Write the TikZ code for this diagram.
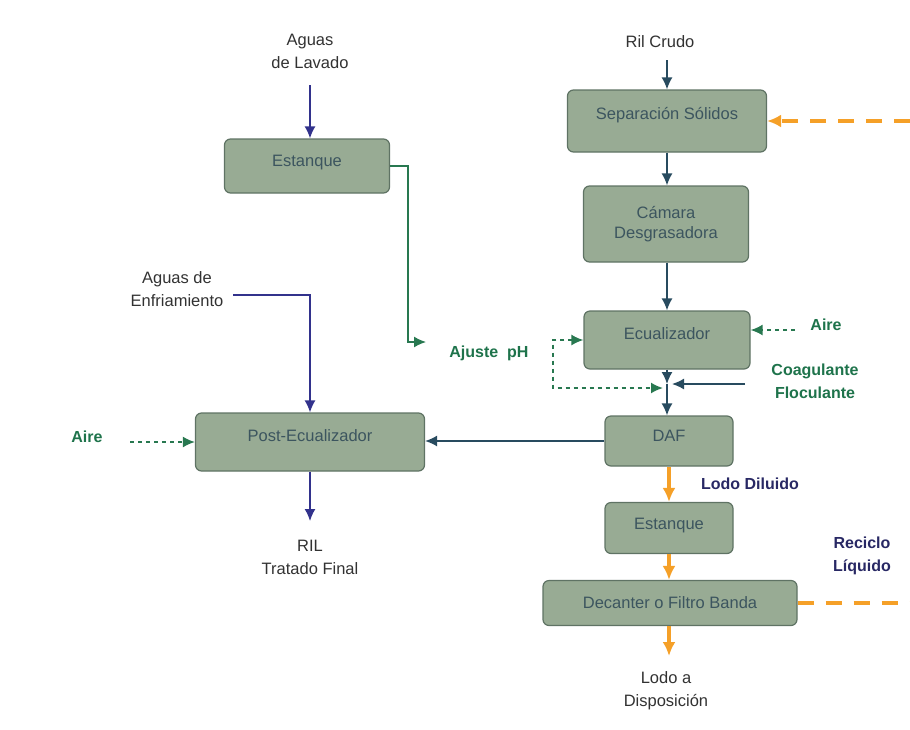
\documentclass[tikz,border=0pt]{standalone}
\usepackage{fontspec}
\setmainfont{Liberation Sans}
\usetikzlibrary{arrows.meta}
\definecolor{boxfill}{RGB}{152,171,148}
\definecolor{boxdraw}{RGB}{95,115,100}
\definecolor{boxtext}{RGB}{60,85,95}
\definecolor{lblgreen}{RGB}{30,115,75}
\definecolor{arrgreen}{RGB}{40,120,80}
\definecolor{navy}{RGB}{50,50,140}
\definecolor{slate}{RGB}{40,75,95}
\definecolor{orng}{RGB}{245,160,40}
\definecolor{lblnavy}{RGB}{40,40,100}
\definecolor{plain}{RGB}{50,50,50}
\tikzset{
  proc/.style={draw=boxdraw, fill=boxfill, line width=1.2pt, rounded corners=6pt,
    text=boxtext, font=\fontsize{16.5}{20}\selectfont, inner sep=0pt, align=center},
  lbl/.style={text=plain, font=\fontsize{16.5}{23}\selectfont, align=center, inner sep=0pt},
  glbl/.style={text=lblgreen, font=\bfseries\fontsize{16}{23}\selectfont, align=center, inner sep=0pt},
  nlbl/.style={text=lblnavy, font=\bfseries\fontsize{16}{23}\selectfont, align=center, inner sep=0pt},
  tip/.style={-{Latex[length=12pt,width=11pt]}},
  navyarr/.style={tip, draw=navy, line width=1.5pt},
  slatearr/.style={tip, draw=slate, line width=1.5pt},
  greenarr/.style={tip, draw=arrgreen, line width=1.5pt},
  gdash/.style={tip, draw=arrgreen, line width=1.8pt, dash pattern=on 4pt off 4pt},
  orarr/.style={-{Latex[length=14pt,width=13pt]}, draw=orng, line width=3.2pt},
  ordash/.style={draw=orng, line width=3.2pt, dash pattern=on 16pt off 12pt},
}
\begin{document}
\begin{tikzpicture}[x=1pt,y=-1pt]
\useasboundingbox (0,0) rectangle (910,729);
% boxes
\node[proc, minimum width=165pt, minimum height=54pt, text depth=10pt] (est1) at (307,166) {Estanque};
\node[proc, minimum width=199pt, minimum height=62pt, text depth=15pt] (sep) at (667,121) {Separación Sólidos};
\node[proc, minimum width=165pt, minimum height=76pt] (cam) at (666,224) {Cámara\\Desgrasadora};
\node[proc, minimum width=166pt, minimum height=58pt, text depth=12pt] (ecu) at (667,340) {Ecualizador};
\node[proc, minimum width=128pt, minimum height=50pt, text depth=10pt] (daf) at (669,441) {DAF};
\node[proc, minimum width=229pt, minimum height=58pt, text depth=12pt] (post) at (310,442) {Post-Ecualizador};
\node[proc, minimum width=128pt, minimum height=51pt, text depth=8pt] (est2) at (669,528) {Estanque};
\node[proc, minimum width=254pt, minimum height=45pt] (dec) at (670,603) {Decanter o Filtro Banda};
% labels
\node[lbl] (lav) at (310,51) {Aguas\\de Lavado};
\node[lbl] (ril) at (660,42) {Ril Crudo};
\node[lbl] (enf) at (177,289) {Aguas de\\Enfriamiento};
\node[lbl] (trat) at (310,557) {RIL\\Tratado Final};
\node[lbl] (disp) at (666,691) {Lodo a\\Disposición};
\node[glbl] (aireL) at (87,437) {Aire};
\node[glbl] (ph) at (489,353) {Ajuste\ \ pH};
\node[glbl] (aireR) at (826,325) {Aire};
\node[glbl] (coag) at (815,381) {Coagulante\\Floculante};
\node[nlbl] (lodo) at (750,484) {Lodo Diluido};
\node[nlbl] (rec) at (862,556) {Reciclo\\Líquido};
% coordinates
\coordinate (lavS) at (310,85);
\coordinate (enfE) at (233,295);
\coordinate (tratN) at (310,521);
\coordinate (rilS) at (667,60);
\coordinate (junc) at (667,384);
\coordinate (coagW) at (745,384);
\coordinate (aireRW) at (795,330);
\coordinate (aireLE) at (130,442);
\coordinate (dispN) at (669,656);
\coordinate (recTop) at (910,121);
\coordinate (recBot) at (910,603);
% connectors
\draw[navyarr] (lavS) -- (est1.north -| lavS);
\draw[greenarr] (est1.east) -- (408,166) -- (408,342) -- (426,342);
\draw[navyarr] (enfE) -- (310,295) -- (post.north);
\draw[navyarr] (post.south) -- (tratN);
\draw[slatearr] (daf.west |- 0,441) -- (post.east |- 0,441);
\draw[slatearr] (rilS) -- (sep.north -| rilS);
\draw[slatearr] (sep.south -| rilS) -- (cam.north -| rilS);
\draw[slatearr] (cam.south -| rilS) -- (ecu.north -| rilS);
\draw[slatearr] (ecu.south -| rilS) -- (junc);
\draw[slatearr] (junc) -- (daf.north -| junc);
\draw[slatearr] (coagW) -- ([xshift=5pt]junc);
\draw[gdash, {Latex[length=12pt,width=11pt]}-{Latex[length=12pt,width=11pt]}] (ecu.west) -- (553,340) -- (553,388) -- (663,388);
\draw[gdash] (aireRW) -- (ecu.east |- aireRW);
\draw[gdash] (aireLE) -- (post.west |- aireLE);
\draw[orarr] (daf.south) -- (est2.north);
\draw[orarr] (est2.south) -- (est2.south |- dec.north);
\draw[orarr] (dec.south -| est2.south) -- (dispN);
\draw[ordash, -{Latex[length=14pt,width=13pt]}] (recTop) -- (sep.east);
\draw[ordash] (dec.east) -- (recBot);
\end{tikzpicture}
\end{document}
